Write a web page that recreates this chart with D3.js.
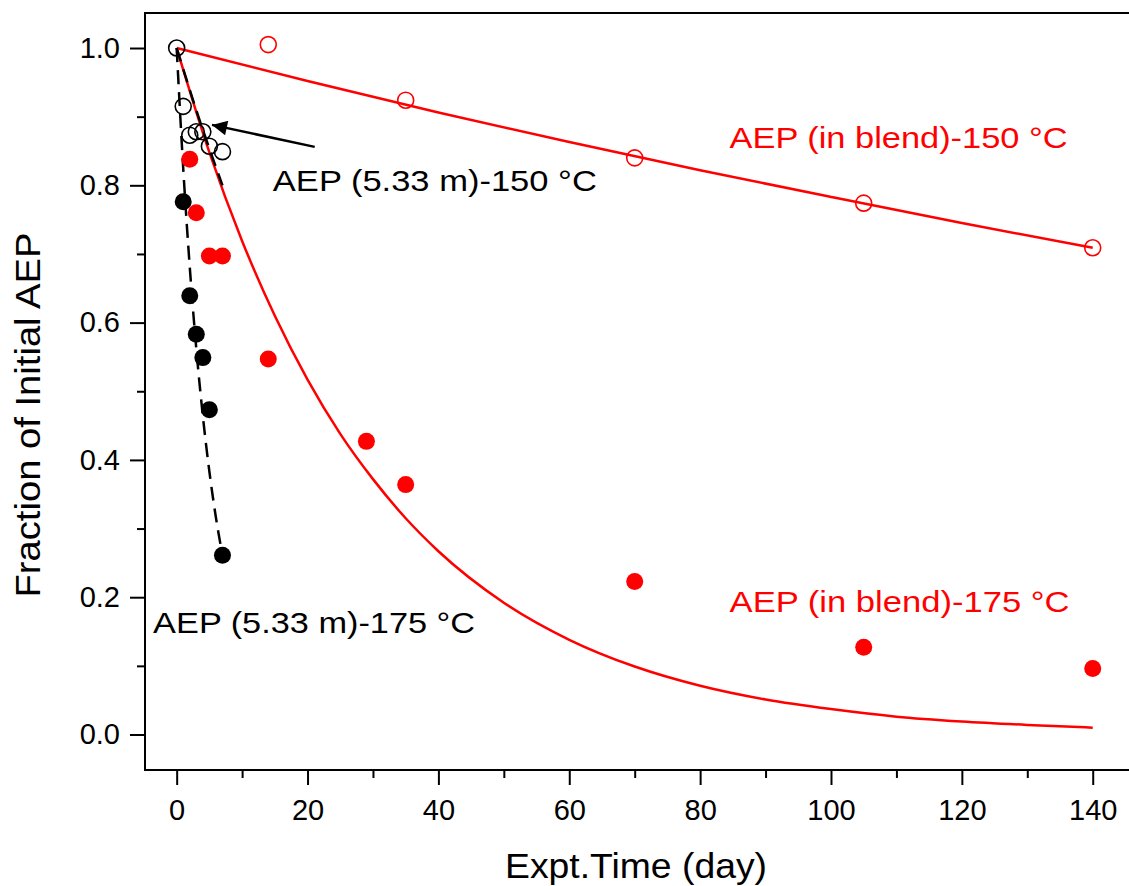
<!DOCTYPE html>
<html>
<head>
<meta charset="utf-8">
<script src="https://cdn.jsdelivr.net/npm/d3@7"></script>
<style>
  body { margin: 0; background: #fff; }
  svg { display: block; font-family: "Liberation Sans", Arial, sans-serif; }
</style>
</head>
<body>
<svg width="1129" height="886"></svg>
<script>
// AEP (5.33 m) - 150 C, open black circles
var days150m = [0, 1, 2, 3, 4, 5, 7];
var frac150m = [1.0, 0.915, 0.873, 0.878, 0.878, 0.857, 0.849];
// AEP (5.33 m) - 175 C, filled black circles
var days175m = [1, 2, 3, 4, 5, 7];
var frac175m = [0.776, 0.639, 0.583, 0.549, 0.473, 0.261];
// AEP (in blend) - 150 C, open red circles
var days150b = [14, 35, 70, 105, 140];
var frac150b = [1.005, 0.924, 0.840, 0.774, 0.709];
// AEP (in blend) - 175 C, filled red circles
var days175b = [2, 3, 5, 7, 14, 29, 35, 70, 105, 140];
var frac175b = [0.838, 0.760, 0.697, 0.697, 0.547, 0.427, 0.364, 0.223, 0.127, 0.096];

// fitted curves
var fitDays150b = [0, 20, 40, 60, 80, 100, 120, 140];
var fitFrac150b = [1.0, 0.952, 0.906, 0.863, 0.822, 0.783, 0.745, 0.709];
var fitDays175b = [0, 5, 10, 15, 20, 25, 30, 35, 40, 50, 60, 70, 80, 90, 100, 110, 120, 130, 140];
var fitFrac175b = [1.0, 0.848, 0.719, 0.610, 0.517, 0.438, 0.372, 0.315, 0.267, 0.192, 0.138, 0.099, 0.071, 0.051, 0.037, 0.026, 0.019, 0.014, 0.010];
var fitDays150m = [0, 3.5, 7];
var fitFrac150m = [1.0, 0.895, 0.80];
var fitDays175m = [0, 1, 2, 3, 4, 5, 6, 7];
var fitFrac175m = [1.0, 0.825, 0.681, 0.562, 0.464, 0.383, 0.316, 0.261];

var xTicks = [0, 20, 40, 60, 80, 100, 120, 140];
var xMinor = [10, 30, 50, 70, 90, 110, 130];
var yTicks = [0.0, 0.2, 0.4, 0.6, 0.8, 1.0];
var yMinor = [0.1, 0.3, 0.5, 0.7, 0.9];

var svg = d3.select("svg");
var pLeft = 145, pRight = 1131, pTop = 13, pBottom = 770;

var x = d3.scaleLinear().domain([-4.84, 145.85]).range([pLeft, pRight]);
var y = d3.scaleLinear().domain([-0.0517, 1.051]).range([pBottom, pTop]);

var red = "#ff0000";

function pairs(a, b) { return a.map(function(v, i){ return [v, b[i]]; }); }

// axes
var gx = svg.append("g").attr("transform", "translate(0," + pBottom + ")");
gx.call(d3.axisBottom(x).tickValues(xTicks).tickSize(15).tickPadding(14).tickFormat(d3.format("d")));
gx.append("g").call(d3.axisBottom(x).tickValues(xMinor).tickSize(8).tickFormat(""));
var gy = svg.append("g").attr("transform", "translate(" + pLeft + ",0)");
gy.call(d3.axisLeft(y).tickValues(yTicks).tickSize(15).tickPadding(10).tickFormat(d3.format(".1f")));
gy.append("g").call(d3.axisLeft(y).tickValues(yMinor).tickSize(8).tickFormat(""));
svg.selectAll(".domain").remove();
svg.selectAll(".tick line").attr("stroke", "#000").attr("stroke-width", 2);
svg.selectAll(".tick text").attr("font-size", 29).attr("fill", "#000")
  .attr("font-family", "'Liberation Sans', Arial, sans-serif");

svg.append("rect").attr("x", pLeft).attr("y", pTop)
  .attr("width", pRight - pLeft).attr("height", pBottom - pTop)
  .attr("fill", "none").attr("stroke", "#000").attr("stroke-width", 2);

// fit lines
var line = d3.line().x(function(d){ return x(d[0]); }).y(function(d){ return y(d[1]); })
  .curve(d3.curveMonotoneX);

svg.append("path").datum(pairs(fitDays150b, fitFrac150b)).attr("d", line)
  .attr("fill", "none").attr("stroke", red).attr("stroke-width", 2.5);
svg.append("path").datum(pairs(fitDays175b, fitFrac175b)).attr("d", line)
  .attr("fill", "none").attr("stroke", red).attr("stroke-width", 2.5);
svg.append("path").datum(pairs(fitDays150m, fitFrac150m)).attr("d", line)
  .attr("fill", "none").attr("stroke", "#000").attr("stroke-width", 2.5).attr("stroke-dasharray", "14,8");
svg.append("path").datum(pairs(fitDays175m, fitFrac175m)).attr("d", line)
  .attr("fill", "none").attr("stroke", "#000").attr("stroke-width", 2.5).attr("stroke-dasharray", "14,8");

// points
function dots(days, vals, color, filled) {
  svg.append("g").selectAll("circle").data(pairs(days, vals)).enter()
    .append("circle")
    .attr("cx", function(d){ return x(d[0]); })
    .attr("cy", function(d){ return y(d[1]); })
    .attr("r", filled ? 8.5 : 8)
    .attr("fill", filled ? color : "none")
    .attr("stroke", filled ? "none" : color)
    .attr("stroke-width", 1.6);
}
dots(days175b, frac175b, red, true);
dots(days175m, frac175m, "#000", true);
dots(days150b, frac150b, red, false);
dots(days150m, frac150m, "#000", false);

// arrow
svg.append("defs").append("marker").attr("id", "head")
  .attr("viewBox", "0 0 10 10").attr("refX", 10).attr("refY", 5)
  .attr("markerWidth", 8.5).attr("markerHeight", 6).attr("orient", "auto")
  .attr("markerUnits", "strokeWidth")
  .append("path").attr("d", "M0,0L10,5L0,10Z").attr("fill", "#000");
svg.append("line")
  .attr("x1", x(21.1)).attr("y1", y(0.856))
  .attr("x2", x(5.4)).attr("y2", y(0.888))
  .attr("stroke", "#000").attr("stroke-width", 2.5).attr("marker-end", "url(#head)");

// labels
var labels = [
  {t: "AEP (5.33 m)-150 \u00b0C", d: 14.7, v: 0.792, c: "#000", w: 324},
  {t: "AEP (5.33 m)-175 \u00b0C", d: -3.6, v: 0.148, c: "#000", w: 322},
  {t: "AEP (in blend)-150 \u00b0C", d: 84.5, v: 0.855, c: red, w: 338},
  {t: "AEP (in blend)-175 \u00b0C", d: 84.5, v: 0.178, c: red, w: 340}
];
svg.selectAll("text.lab").data(labels).enter().append("text").attr("class", "lab")
  .attr("x", function(d){ return x(d.d); })
  .attr("y", function(d){ return y(d.v); })
  .attr("font-size", 30).attr("fill", function(d){ return d.c; })
  .attr("textLength", function(d){ return d.w; })
  .attr("lengthAdjust", "spacingAndGlyphs")
  .text(function(d){ return d.t; });

// axis titles
svg.append("text").attr("x", 636).attr("y", 878).attr("text-anchor", "middle")
  .attr("font-size", 35).attr("textLength", 262).attr("lengthAdjust", "spacingAndGlyphs")
  .text("Expt.Time (day)");
svg.append("text").attr("transform", "translate(40,415) rotate(-90)")
  .attr("text-anchor", "middle").attr("font-size", 35)
  .attr("textLength", 365).attr("lengthAdjust", "spacingAndGlyphs")
  .text("Fraction of Initial AEP");
</script>
</body>
</html>
